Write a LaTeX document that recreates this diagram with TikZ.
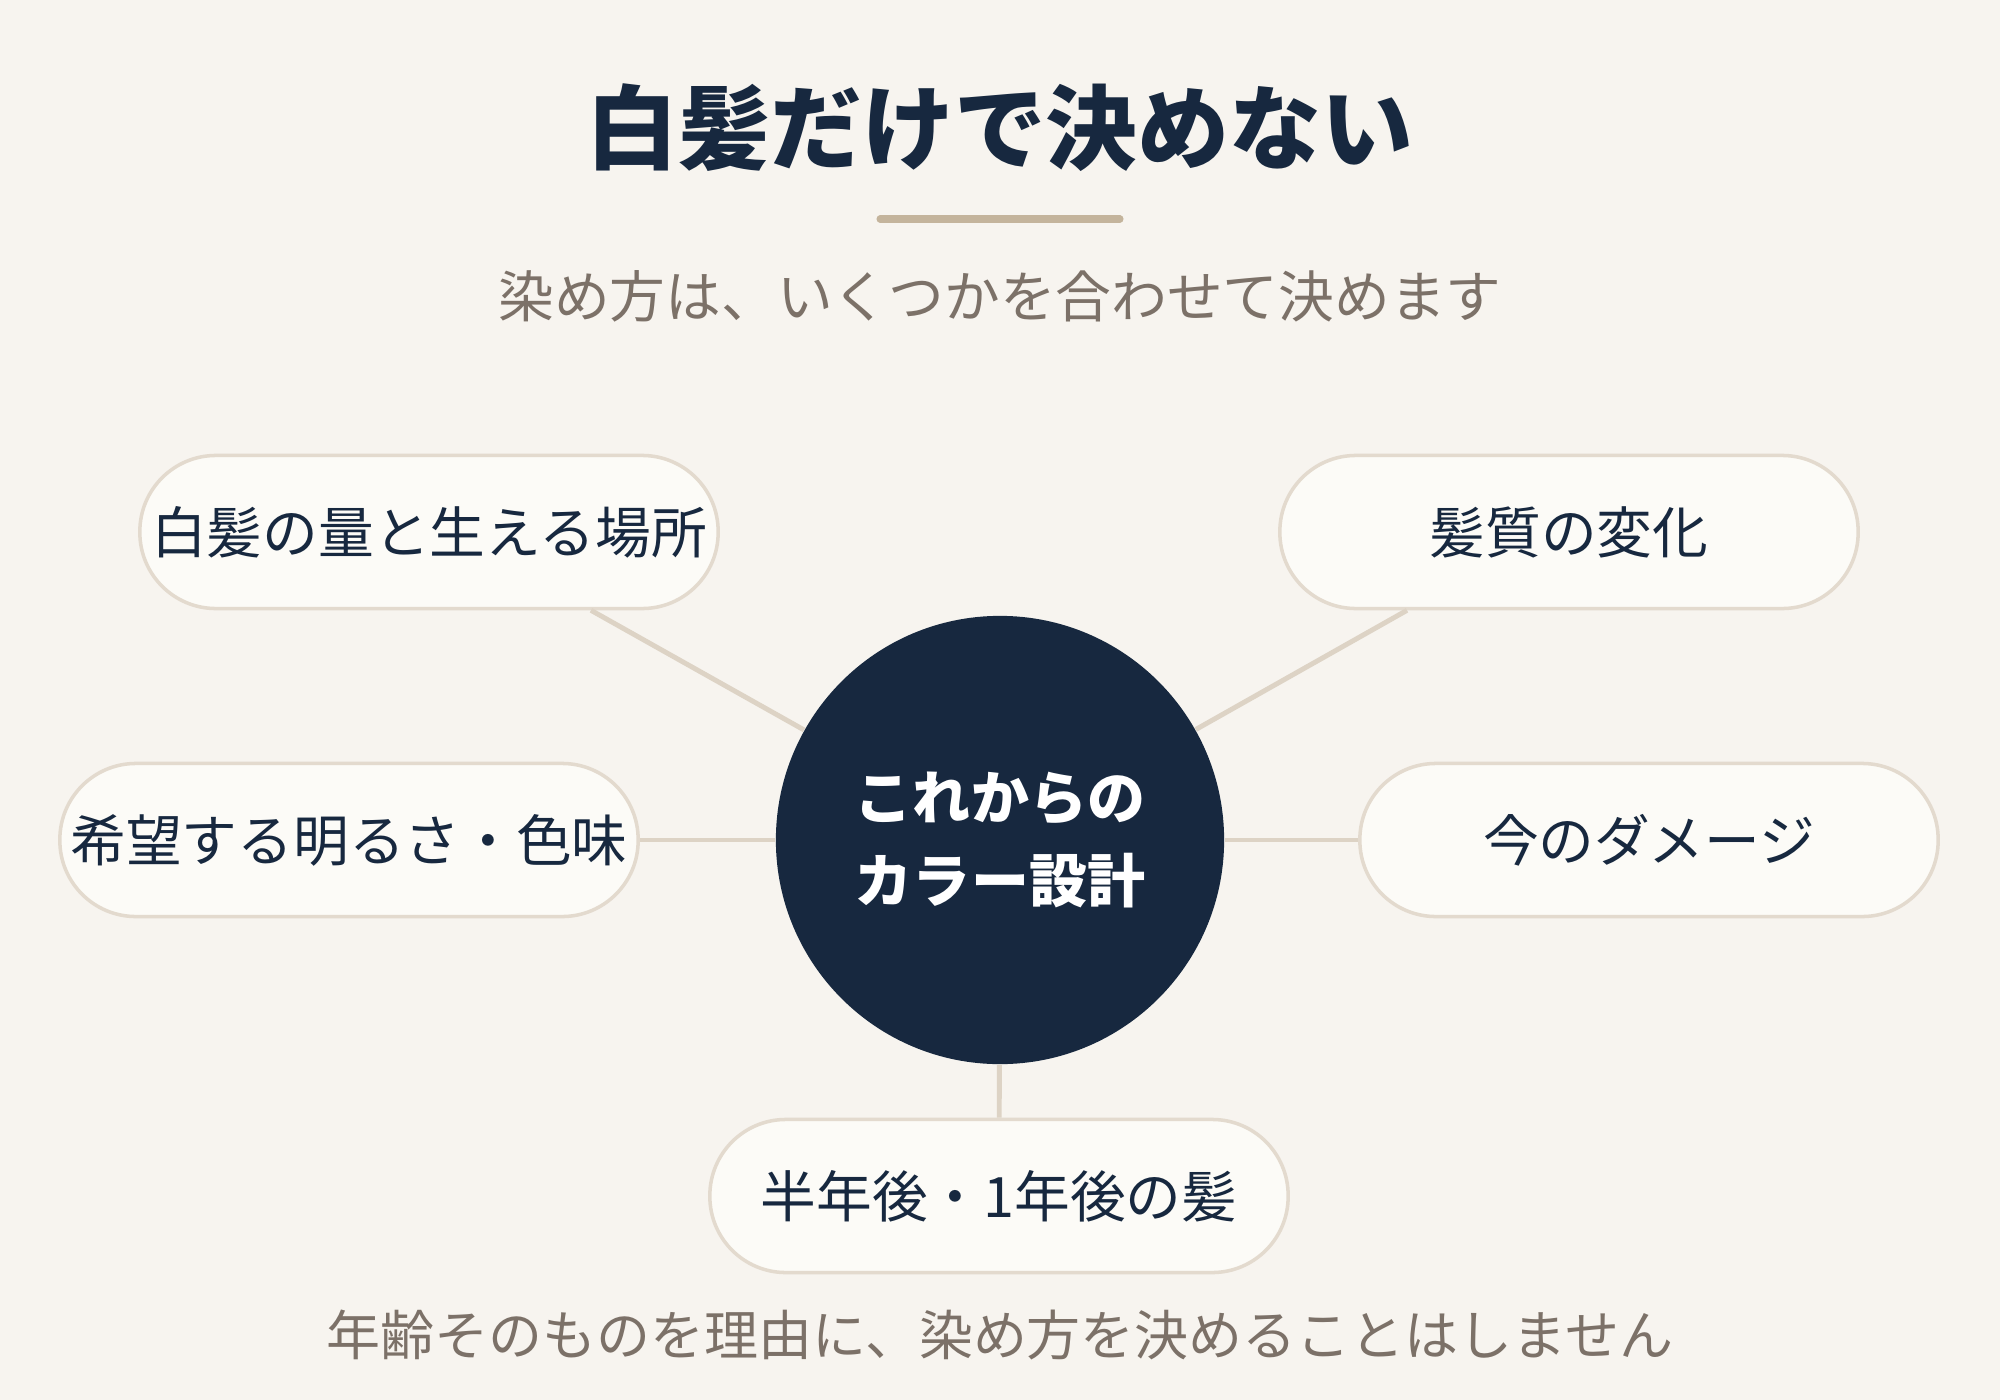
\documentclass[tikz,border=0pt]{standalone}
\usepackage{fontspec}
\setmainfont{Noto Sans CJK JP}
\usepackage{xcolor}
\usetikzlibrary{positioning,calc}

\definecolor{bgbeige}{HTML}{F7F4EF}
\definecolor{navy}{HTML}{17283F}
\definecolor{tanline}{HTML}{C4B49C}
\definecolor{greytext}{HTML}{7C7168}
\definecolor{pillfill}{HTML}{FCFBF7}
\definecolor{pilledge}{HTML}{E3DACE}
\definecolor{linkcol}{HTML}{DDD3C5}

\begin{document}
\begin{tikzpicture}[
						x=0.01cm, y=-0.01cm,
						pill/.style={
							draw=pilledge,          % thin beige edge
							line width=1pt,
							fill=pillfill,
							rectangle, rounded corners=7.6mm,
							minimum width=5.78cm,
							minimum height=1.53cm,
							inner sep=0pt,
							text=navy,
							font=\fontsize{15.85}{18}\selectfont,
							anchor=center
						},
						core/.style={             % dark centre disc
							circle, fill=navy,
							minimum size=4.48cm,
							inner sep=0pt,
							text=white, align=center,
							font=\bfseries\fontsize{16.5}{23.6}\selectfont
						},
						link/.style={             % beige spokes
							draw=linkcol, line width=1.4pt
						},
						note/.style={
							text=greytext,
							font=\fontsize{15.85}{18}\selectfont
						}
						]
						% --- background ---
						\fill[bgbeige] (0,0) rectangle (2000,1400);
						
						% --- title ---
						\node[text=navy, font=\bfseries\fontsize{26.1}{30}\selectfont] (title) at (1000,128) {白髪だけで決めない};
						\coordinate (ruleL) at (880,219);
						\coordinate (ruleR) at (1120,219);
						\draw[tanline, line width=2pt, line cap=round] (ruleL) -- (ruleR);
						\node[note] (sub) at (1000,296) {染め方は、いくつかを合わせて決めます};
						
						% --- centre ---
						\node[core] (plan) at (1000,840) {これからの\\カラー設計};
						
						% --- factors ---
						\foreach \nm/\pos/\txt in {
							amount/{429,532}/白髪の量と生える場所,
							quality/{1569,532}/髪質の変化,
							wish/{349,840}/希望する明るさ・色味,
							damage/{1649,840}/今のダメージ,
							future/{999,1196}/半年後・1年後の髪} {
							\node[pill] (\nm) at (\pos) {\txt};
						}
						
						% upper spokes meet the pill bottoms off-centre
						\coordinate (amountfoot) at ($(amount.south)+(162,0)$);
						\coordinate (qualityfoot) at ($(quality.south)+(-162,0)$);
						\draw[link] (plan) -- (amountfoot);
						\draw[link] (plan) -- (qualityfoot);
						\foreach \nm in {wish, damage, future} {
							\draw[link] (plan) -- (\nm);
						}
						
						% --- footer ---
						\node[note, font=\fontsize{15.35}{18}\selectfont] (foot) at (1000,1335) {年齢そのものを理由に、染め方を決めることはしません};
						
					\end{tikzpicture}
\end{document}
